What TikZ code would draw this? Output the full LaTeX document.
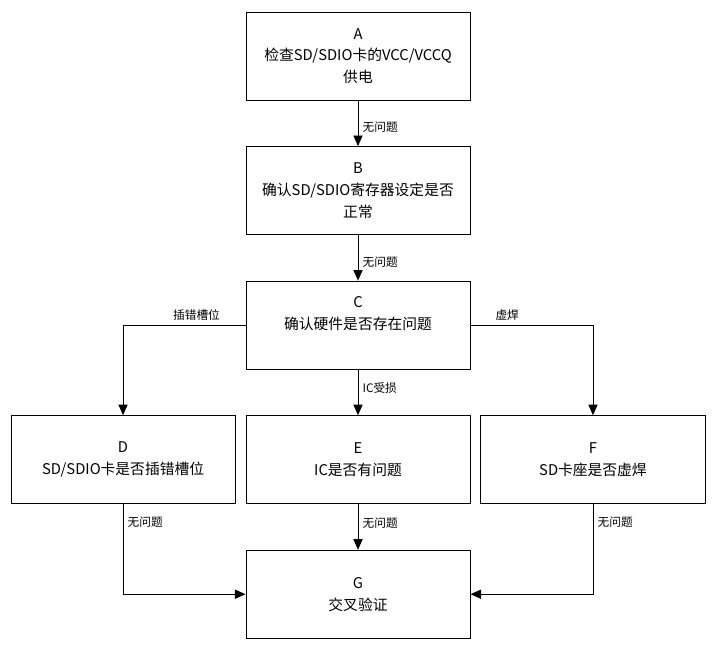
\documentclass[tikz,border=0pt]{standalone}
\usepackage{fontspec}
\setmainfont{Noto Sans CJK SC}
\usetikzlibrary{positioning,arrows.meta}

\tikzset{
    flowbox/.style={draw, line width=0.65pt, minimum width=5.6cm, minimum height=2.2cm,
        align=center, font=\fontsize{10.5}{15.5}\selectfont, inner sep=2pt},
    flowarrow/.style={line width=0.65pt, -{Triangle[width=6.5pt,length=7.5pt]}},
    flowlabel/.style={font=\fontsize{8.3}{10}\selectfont, inner sep=3pt}
}

\begin{document}
\begin{tikzpicture}[x=0.025cm, y=-0.025cm]

    % picture frame
    \useasboundingbox (0,0) rectangle (716,651);

    % main column
    \node[flowbox] (A) at (358,56) {A\\检查SD/SDIO卡的VCC/VCCQ\\供电};
    \node[flowbox, below=1.14cm of A] (B) {B\\确认SD/SDIO寄存器设定是否\\正常};
    \node[flowbox, below=1.14cm of B] (C) {C\\确认硬件是否存在问题\\[2pt]};

    % three checks
    \node[flowbox, below=1.14cm of C] (E) {E\\IC是否有问题};
    \node[flowbox, left=0.25cm of E] (D) {D\\SD/SDIO卡是否插错槽位};
    \node[flowbox, right=0.25cm of E] (F) {F\\SD卡座是否虚焊};

    % result
    \node[flowbox, below=1.14cm of E] (G) {G\\交叉验证};

    % arrows
    \draw[flowarrow] (A) -- (B) node[midway, right, flowlabel, yshift=-3pt] {无问题};
    \draw[flowarrow] (B) -- (C) node[midway, right, flowlabel, yshift=-3pt] {无问题};
    \draw[flowarrow] (C.west) -| (D.north) node[pos=0.2, above, flowlabel] {插错槽位};
    \draw[flowarrow] (C) -- (E) node[midway, right, flowlabel, yshift=3pt] {IC受损};
    \draw[flowarrow] (C.east) -| (F.north) node[pos=0.15, above, flowlabel] {虚焊};
    \draw[flowarrow] (D.south) |- (G.west) node[pos=0.1, right, flowlabel] {无问题};
    \draw[flowarrow] (E) -- (G) node[midway, right, flowlabel, yshift=3pt] {无问题};
    \draw[flowarrow] (F.south) |- (G.east) node[pos=0.1, right, flowlabel] {无问题};

\end{tikzpicture}
\end{document}
